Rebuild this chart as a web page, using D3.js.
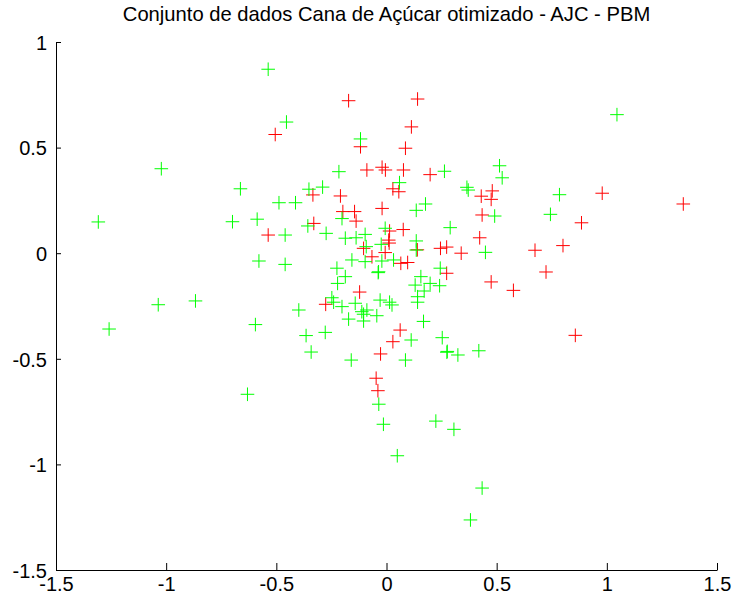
<!DOCTYPE html>
<html>
<head>
<meta charset="utf-8">
<script src="https://cdn.jsdelivr.net/npm/d3@7"></script>
<style>
  html, body { margin: 0; padding: 0; background: #fff; }
  svg { display: block; }
  text { font-family: "Liberation Sans", Arial, Helvetica, sans-serif; fill: #000; }
</style>
</head>
<body>
<svg id="chart" width="740" height="602"></svg>
<script>
const title = "Conjunto de dados Cana de Açúcar otimizado - AJC - PBM";
const xTicks = [-1.5, -1, -0.5, 0, 0.5, 1, 1.5];
const yTicks = [-1.5, -1, -0.5, 0, 0.5, 1];
const xTickLabels = ["-1.5", "-1", "-0.5", "0", "0.5", "1", "1.5"];
const yTickLabels = ["-1.5", "-1", "-0.5", "0", "0.5", "1"];

const greenX = [-1.308,-1.259,-1.022,-1.036,-0.867,-0.537,-0.454,-0.663,-0.699,-0.587,
  -0.579,-0.595,-0.631,-0.488,-0.413,-0.460,-0.460,-0.398,-0.365,-0.342,
  -0.278,-0.352,-0.290,-0.357,-0.274,-0.216,-0.118,-0.202,-0.187,-0.138,
  -0.097,-0.006,-0.024,0.135,0.135,-0.092,-0.157,-0.097,-0.021,0.032,
  0.244,-0.225,-0.187,-0.222,-0.036,0.156,0.130,0.198,0.241,0.171,
  0.141,0.141,-0.248,-0.240,-0.202,-0.142,-0.029,0.014,0.025,-0.112,
  -0.104,-0.089,-0.172,-0.044,-0.104,0.168,0.112,0.253,0.419,0.274,
  0.324,-0.160,0.086,-0.035,-0.014,0.224,0.306,0.049,0.434,0.381,
  0.059,0.263,0.365,0.371,0.513,0.525,0.177,0.135,0.491,1.046,
  0.785,0.744,0.449,0.289,-0.038,0.276];
const greenY = [0.148,-0.359,0.400,-0.244,-0.226,0.871,0.621,0.305,0.149,0.161,
  -0.037,-0.338,-0.668,0.239,0.239,0.086,-0.053,-0.269,-0.390,-0.468,
  -0.375,0.303,0.313,0.129,0.094,0.386,0.541,0.164,0.071,0.073,
  0.089,0.118,0.042,0.058,0.015,0.031,-0.032,-0.040,-0.037,-0.032,
  -0.071,-0.071,-0.111,-0.143,-0.088,-0.111,-0.151,-0.143,-0.154,-0.179,
  -0.206,-0.232,-0.211,-0.232,-0.253,-0.237,-0.222,-0.232,-0.245,-0.277,
  -0.289,-0.269,-0.312,-0.296,-0.321,-0.323,-0.411,-0.400,-0.462,-0.469,
  -0.482,-0.506,-0.506,-0.715,-0.810,-0.795,-0.834,-0.959,-1.112,-1.263,
  0.334,0.388,0.312,0.299,0.414,0.357,0.233,0.203,0.176,0.656,
  0.277,0.184,0.004,0.121,-0.092,-0.465];

const redX = [-0.505,-0.172,0.141,0.113,-0.118,0.086,-0.089,-0.020,-0.005,0.077,
  0.198,-0.334,-0.209,0.029,0.056,0.430,0.480,0.475,-0.198,-0.145,
  -0.020,0.434,-0.138,-0.330,-0.537,0.014,0.076,0.423,0.010,0.012,
  -0.006,-0.104,-0.066,0.140,0.245,0.273,0.339,0.065,0.096,0.273,
  0.475,-0.122,-0.276,0.062,0.029,-0.027,-0.047,-0.039,0.885,0.979,
  1.347,0.801,0.674,0.724,0.576,0.857];
const redY = [0.562,0.722,0.730,0.598,0.504,0.497,0.394,0.407,0.394,0.394,
  0.372,0.276,0.271,0.305,0.291,0.270,0.295,0.255,0.197,0.197,
  0.212,0.181,0.152,0.141,0.086,0.105,0.112,0.073,0.062,0.048,
  0.003,0.023,-0.017,0.016,0.023,0.029,0.000,-0.048,-0.044,-0.095,
  -0.136,-0.184,-0.242,-0.364,-0.419,-0.477,-0.592,-0.651,0.144,0.284,
  0.233,0.036,0.014,-0.089,-0.176,-0.389];

const svg = d3.select("#chart");
svg.append("rect").attr("width", 740).attr("height", 602).attr("fill", "#fff");

const plotLeft = 56, plotRight = 717, plotTop = 42, plotBottom = 570;
const x = d3.scaleLinear().domain([-1.5, 1.5]).range([plotLeft, plotRight]);
const y = d3.scaleLinear().domain([-1.5, 1]).range([plotBottom, plotTop]);

// markers
function drawPlus(xs, ys, color) {
  const g = svg.append("g").attr("stroke", color).attr("stroke-width", 1).attr("fill", "none");
  const pts = xs.map((v, i) => [v, ys[i]]);
  const arm = 6.8;
  g.selectAll("path").data(pts).enter().append("path")
    .attr("d", d => {
      const px = x(d[0]), py = y(d[1]);
      return `M${px - arm},${py}H${px + arm}M${px},${py - arm}V${py + arm}`;
    });
}
drawPlus(redX, redY, "#ff0000");
drawPlus(greenX, greenY, "#00ff00");

// axes
const xAxis = d3.axisBottom(x).tickValues(xTicks).tickSizeInner(-7).tickSizeOuter(0)
  .tickFormat((d, i) => xTickLabels[i]);
const gx = svg.append("g").attr("transform", `translate(0,${plotBottom})`).call(xAxis);
gx.select(".domain").attr("stroke", "#000");
gx.selectAll(".tick line").attr("stroke", "#000");
gx.selectAll(".tick text").attr("font-size", 20).attr("font-family", "Liberation Sans, Arial, sans-serif")
  .attr("y", 21).attr("dy", 0);

const yAxis = d3.axisLeft(y).tickValues(yTicks).tickSizeInner(-5).tickSizeOuter(0)
  .tickFormat((d, i) => yTickLabels[i]);
const gy = svg.append("g").attr("transform", `translate(${plotLeft},0)`).call(yAxis);
gy.select(".domain").attr("stroke", "#000");
gy.selectAll(".tick line").attr("stroke", "#000");
gy.selectAll(".tick text").attr("font-size", 20).attr("font-family", "Liberation Sans, Arial, sans-serif")
  .attr("x", -9).attr("dy", "0.36em");

// title
svg.append("text").attr("x", (plotLeft + plotRight) / 2).attr("y", 21)
  .attr("text-anchor", "middle").attr("font-size", 20.2)
  .text(title);
</script>
</body>
</html>
